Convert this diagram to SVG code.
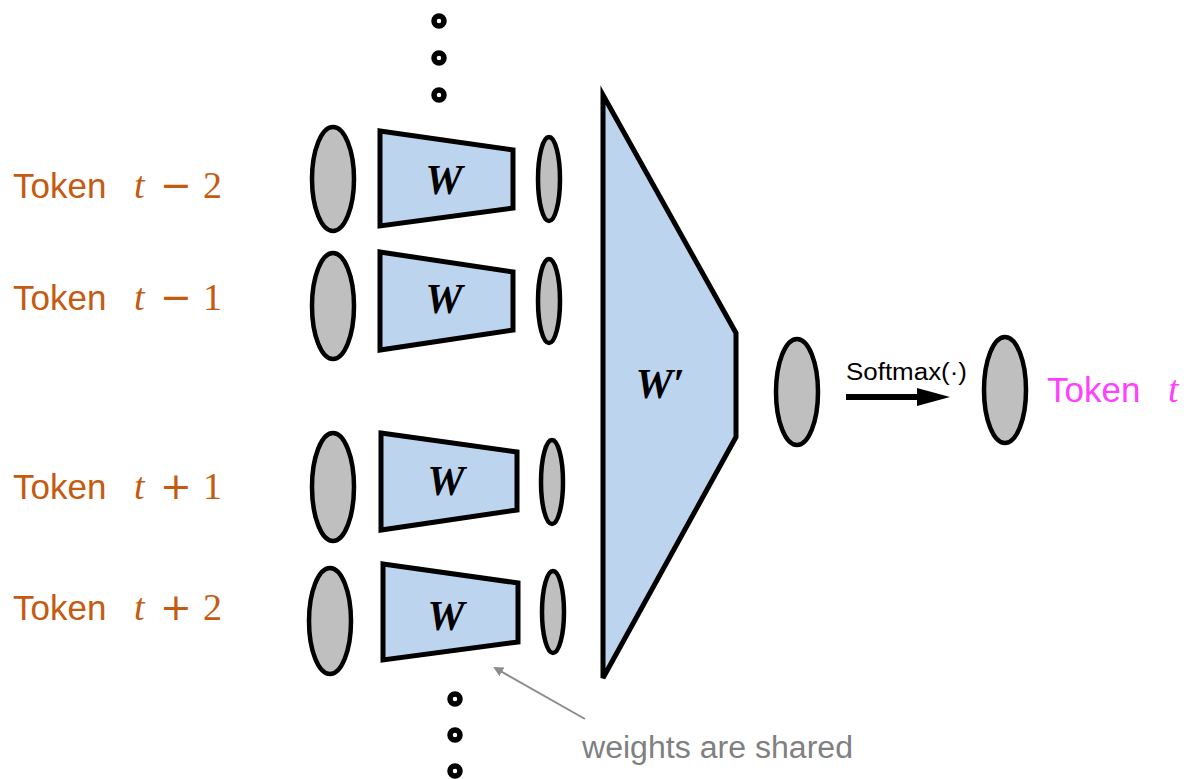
<svg xmlns="http://www.w3.org/2000/svg" width="1190" height="779" viewBox="0 0 1190 779">
<defs>
<style>
.node{fill:#BFBFBF;stroke:#000;stroke-width:4.5}
.trap{fill:#BDD4EE;stroke:#000;stroke-width:5;stroke-linejoin:miter}
.dot{fill:none;stroke:#000;stroke-width:5.5}
.tok{font-family:"Liberation Sans",Arial,sans-serif;font-size:35px;fill:#C55A11}
.mt{font-family:"Liberation Serif","Times New Roman",serif;font-size:38px;font-style:italic;fill:#C55A11}
.mo{font-family:"DejaVu Sans",sans-serif;font-size:38px;fill:#C55A11}
.md{font-family:"Liberation Serif","Times New Roman",serif;font-size:38px;fill:#C55A11}
.wl{font-family:"Liberation Serif","Times New Roman",serif;font-size:42px;font-style:italic;font-weight:bold;fill:#000;text-anchor:middle}
</style>
<marker id="gh" markerWidth="10" markerHeight="10" refX="8" refY="5" orient="auto" markerUnits="userSpaceOnUse">
<path d="M0,0 L10,5 L0,10 Z" fill="#8C8C8C"/>
</marker>
</defs>
<rect width="1190" height="779" fill="#fff"/>

<g id="dots-top">
<circle class="dot" cx="439" cy="21" r="5"/>
<circle class="dot" cx="439" cy="58" r="5"/>
<circle class="dot" cx="439" cy="95" r="5"/>
</g>
<g id="dots-bottom">
<circle class="dot" cx="455" cy="699" r="5"/>
<circle class="dot" cx="455" cy="735" r="5"/>
<circle class="dot" cx="455" cy="771" r="5"/>
</g>

<g id="label-tm2">
<text class="tok" x="13" y="198">Token</text>
<text class="mt" x="134" y="198">t</text>
<text class="mo" x="160" y="198">−</text>
<text class="md" x="203" y="198">2</text>
</g>
<g id="label-tm1">
<text class="tok" x="13" y="310">Token</text>
<text class="mt" x="134" y="310">t</text>
<text class="mo" x="160" y="310">−</text>
<text class="md" x="203" y="310">1</text>
</g>
<g id="label-tp1">
<text class="tok" x="13" y="499">Token</text>
<text class="mt" x="134" y="499">t</text>
<text class="mo" x="160" y="499">+</text>
<text class="md" x="203" y="499">1</text>
</g>
<g id="label-tp2">
<text class="tok" x="13" y="620">Token</text>
<text class="mt" x="134" y="620">t</text>
<text class="mo" x="160" y="620">+</text>
<text class="md" x="203" y="620">2</text>
</g>

<g id="in-tm2"><ellipse class="node" cx="333" cy="179" rx="21" ry="52"/></g>
<g id="in-tm1"><ellipse class="node" cx="333" cy="306" rx="21" ry="53"/></g>
<g id="in-tp1"><ellipse class="node" cx="333" cy="487" rx="21" ry="54"/></g>
<g id="in-tp2"><ellipse class="node" cx="330" cy="621" rx="21" ry="53"/></g>

<g id="w-tm2"><polygon class="trap" points="380,131 513,150 513,208 380,226"/><text class="wl" x="444" y="194">W</text></g>
<g id="w-tm1"><polygon class="trap" points="380,252 513,272 513,330 380,350"/><text class="wl" x="444" y="313">W</text></g>
<g id="w-tp1"><polygon class="trap" points="381,433 517,452 517,510 381,530"/><text class="wl" x="446" y="495">W</text></g>
<g id="w-tp2"><polygon class="trap" points="383,564 518,583 518,642 383,660"/><text class="wl" x="446" y="630">W</text></g>

<g id="h-tm2"><ellipse class="node" cx="549" cy="179" rx="11" ry="42"/></g>
<g id="h-tm1"><ellipse class="node" cx="549" cy="301" rx="11" ry="42"/></g>
<g id="h-tp1"><ellipse class="node" cx="552" cy="482" rx="11" ry="42"/></g>
<g id="h-tp2"><ellipse class="node" cx="553" cy="612" rx="11" ry="41"/></g>

<g id="wprime">
<polygon class="trap" points="603,95 736,333 736,437 603,678"/>
<text class="wl" x="660" y="398">W′</text>
</g>

<g id="hidden"><ellipse class="node" cx="797" cy="392" rx="21" ry="53"/></g>

<g id="output">
<ellipse class="node" cx="1005" cy="390" rx="21" ry="53"/>
<text x="1047" y="402" font-family="'Liberation Sans',Arial,sans-serif" font-size="35" fill="#FF40FF">Token</text>
<text x="1168" y="402" font-family="'Liberation Serif','Times New Roman',serif" font-size="38" font-style="italic" fill="#FF40FF">t</text>
</g>

<g id="connectors">
<line x1="846" y1="397" x2="920" y2="397" stroke="#000" stroke-width="6"/>
<polygon points="917,388 950,397 917,406" fill="#000"/>
<text x="846" y="380" font-family="'Liberation Sans',Arial,sans-serif" font-size="23" fill="#000" textLength="121" lengthAdjust="spacingAndGlyphs">Softmax(·)</text>
<line x1="585" y1="719" x2="495" y2="668" stroke="#8C8C8C" stroke-width="2" marker-end="url(#gh)"/>
<text x="582" y="758" font-family="'Liberation Sans',Arial,sans-serif" font-size="31" fill="#808080" textLength="271" lengthAdjust="spacingAndGlyphs">weights are shared</text>
</g>
</svg>
